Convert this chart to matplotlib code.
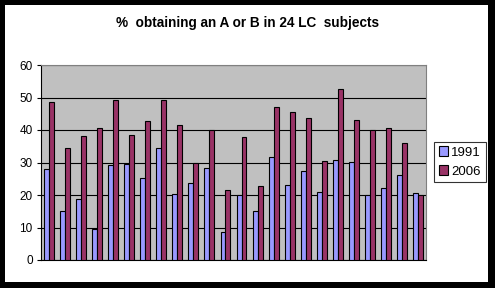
import matplotlib.pyplot as plt
import matplotlib.patches as mpatches
import numpy as np

# % obtaining A or B, per subject
y1991 = [28, 15.2, 18.8, 9.5, 29.1, 29.6, 25.2, 34.4, 20.3, 23.7, 28.3, 8.5,
         19.9, 15, 31.7, 23.1, 27.4, 20.9, 30.8, 30.2, 19.9, 22.2, 26.2, 20.5]
y2006 = [48.7, 34.4, 38.2, 40.5, 49.2, 38.4, 42.8, 49.2, 41.4, 30, 40, 21.4,
         37.7, 22.8, 47, 45.5, 43.6, 30.5, 52.6, 43.1, 39.9, 40.5, 35.9, 19.9]
series = ["1991", "2006"]
yticks = [0, 10, 20, 30, 40, 50, 60]

fig = plt.figure(figsize=(4.95, 2.88), dpi=100)
fig.patch.set_facecolor("black")
# white chart area inside the black frame
fig.patches.append(mpatches.Rectangle((5/495, 6/288), 483/495, 277/288,
                                      transform=fig.transFigure, facecolor="white",
                                      edgecolor="none", zorder=-5))

ax = fig.add_axes([41/495, 28/288, 385/495, 195/288])
ax.set_facecolor("#C0C0C0")

x = np.arange(len(y1991))
w = 0.31
ax.bar(x - w/2, y1991, w, color="#9999FF", edgecolor="black", linewidth=0.8,
       label=series[0], zorder=3)
ax.bar(x + w/2, y2006, w, color="#993366", edgecolor="black", linewidth=0.8,
       label=series[1], zorder=3)

ax.set_xlim(-0.5, len(y1991) - 0.5)
ax.set_ylim(0, 60)
ax.set_yticks(yticks)
ax.set_xticks([])
ax.yaxis.grid(True, color="black", linewidth=0.8, zorder=1)
ax.set_axisbelow(True)
ax.tick_params(axis="y", direction="out", length=3, labelsize=8.5, pad=3)
for lab in ax.get_yticklabels():
    lab.set_family("Liberation Sans")

ax.spines["left"].set_color("black")
ax.spines["bottom"].set_color("black")
ax.spines["top"].set_color("#808080")
ax.spines["right"].set_color("#808080")

fig.text(0.5, 1 - 23/288, "%  obtaining an A or B in 24 LC  subjects",
         ha="center", va="center", fontsize=9.8, fontweight="bold",
         family="Liberation Sans")

leg = fig.legend(loc="center", bbox_to_anchor=(460/495, 1 - 162/288),
                 frameon=True, fancybox=False, edgecolor="black",
                 prop={"family": "Liberation Sans", "size": 9.5},
                 handlelength=0.7, handleheight=0.7, handletextpad=0.25,
                 borderpad=0.35, labelspacing=0.5, borderaxespad=0)
leg.get_frame().set_linewidth(0.8)

fig.savefig("out.png", dpi=100, facecolor=fig.get_facecolor())
